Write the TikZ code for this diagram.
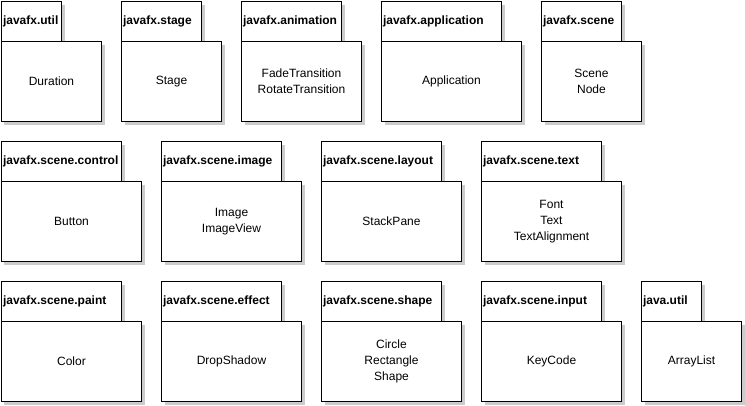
\documentclass[tikz,border=0pt]{standalone}
\usepackage{fontspec}
\setmainfont{Liberation Sans}
\usetikzlibrary{shadows}
\tikzset{
  pkgshadow/.style={drop shadow={shadow xshift=3pt, shadow yshift=-3pt, fill=black!20, opacity=1}},
  tabbox/.style={pkgshadow, draw, fill=white, line width=1pt, anchor=north west,
    minimum height=40pt, inner xsep=1.5pt, inner ysep=0pt, align=left,
    font=\bfseries\fontsize{12}{14}\selectfont},
  bodybox/.style={pkgshadow, draw, fill=white, line width=1pt, anchor=north west,
    minimum height=80pt, inner sep=0pt, align=center,
    font=\fontsize{12}{16}\selectfont}
}
% #1 name, #2 x, #3 y, #4 tab text width, #5 body width, #6 title, #7 content
\newcommand\umlpkg[7]{%
  \node[tabbox, text width=#4] (#1tab) at (#2,#3) {#6};
  \node[bodybox, minimum width=#5] (#1body) at (#2,#3+40) {#7};
}
\begin{document}
\begin{tikzpicture}[x=1pt,y=-1pt]
\useasboundingbox (-0.5,-0.5) rectangle (744.5,404.5);
% row 1
\umlpkg{util}{0.5}{0.5}{57pt}{100pt}{javafx.util}{Duration}
\umlpkg{stage}{120.5}{0.5}{77pt}{100pt}{javafx.stage}{Stage}
\umlpkg{anim}{240.5}{0.5}{97pt}{120pt}{javafx.animation}{FadeTransition\\RotateTransition}
\umlpkg{app}{380.5}{0.5}{117pt}{140pt}{javafx.application}{Application}
\umlpkg{scene}{540.5}{0.5}{77pt}{100pt}{javafx.scene}{Scene\\Node}
% row 2
\umlpkg{control}{0.5}{140.5}{117pt}{140pt}{javafx.scene.control}{Button}
\umlpkg{image}{160.5}{140.5}{117pt}{140pt}{javafx.scene.image}{Image\\ImageView}
\umlpkg{layout}{320.5}{140.5}{117pt}{140pt}{javafx.scene.layout}{StackPane}
\umlpkg{text}{480.5}{140.5}{117pt}{140pt}{javafx.scene.text}{Font\\Text\\TextAlignment}
% row 3
\umlpkg{paint}{0.5}{280.5}{117pt}{140pt}{javafx.scene.paint}{Color}
\umlpkg{effect}{160.5}{280.5}{117pt}{140pt}{javafx.scene.effect}{DropShadow}
\umlpkg{shape}{320.5}{280.5}{117pt}{140pt}{javafx.scene.shape}{Circle\\Rectangle\\Shape}
\umlpkg{input}{480.5}{280.5}{117pt}{140pt}{javafx.scene.input}{KeyCode}
\umlpkg{jutil}{640.5}{280.5}{57pt}{100pt}{java.util}{ArrayList}
\end{tikzpicture}
\end{document}
